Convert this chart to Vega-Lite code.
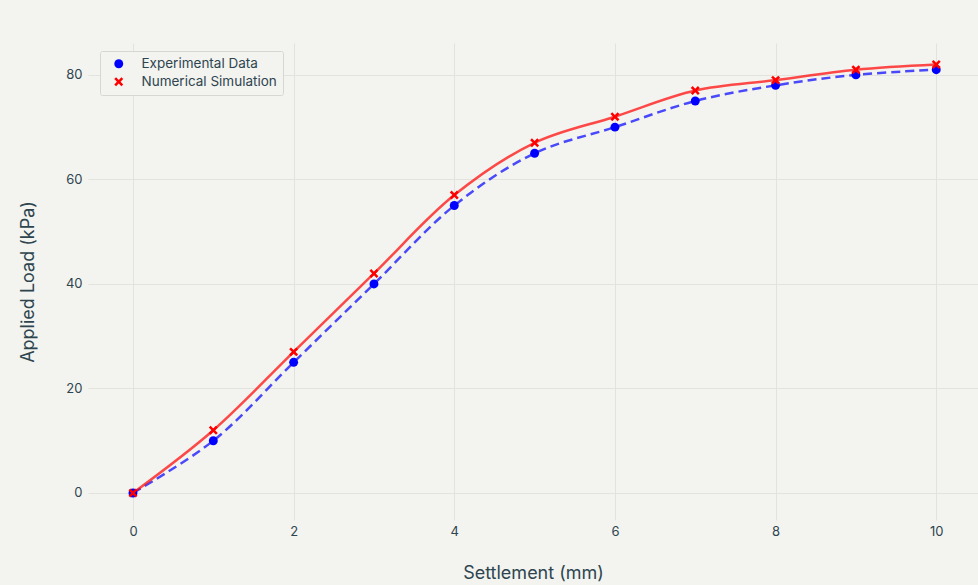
{
  "$schema": "https://vega.github.io/schema/vega-lite/v6.json",
  "width": 890,
  "height": 477,
  "autosize": {"type": "none"},
  "padding": {"left": 88, "top": 43, "right": 0, "bottom": 65},
  "background": "#f3f3ef",
  "config": {
    "view": {"stroke": null, "fill": "#f3f3ef"},
    "font": "Inter",
    "axis": {
      "domain": false,
      "ticks": false,
      "gridColor": "#e3e3de",
      "gridWidth": 1,
      "labelColor": "#2e4550",
      "labelFontSize": 13,
      "labelFont": "Inter",
      "titleColor": "#2e4550",
      "titleFontSize": 18,
      "titleFontWeight": "normal",
      "titleFont": "Inter"
    }
  },
  "data": {
    "values": [
      {"settlement": 0, "load": 0, "series": "Experimental Data"},
      {"settlement": 1, "load": 10, "series": "Experimental Data"},
      {"settlement": 2, "load": 25, "series": "Experimental Data"},
      {"settlement": 3, "load": 40, "series": "Experimental Data"},
      {"settlement": 4, "load": 55, "series": "Experimental Data"},
      {"settlement": 5, "load": 65, "series": "Experimental Data"},
      {"settlement": 6, "load": 70, "series": "Experimental Data"},
      {"settlement": 7, "load": 75, "series": "Experimental Data"},
      {"settlement": 8, "load": 78, "series": "Experimental Data"},
      {"settlement": 9, "load": 80, "series": "Experimental Data"},
      {"settlement": 10, "load": 81, "series": "Experimental Data"},
      {"settlement": 0, "load": 0, "series": "Numerical Simulation"},
      {"settlement": 1, "load": 12, "series": "Numerical Simulation"},
      {"settlement": 2, "load": 27, "series": "Numerical Simulation"},
      {"settlement": 3, "load": 42, "series": "Numerical Simulation"},
      {"settlement": 4, "load": 57, "series": "Numerical Simulation"},
      {"settlement": 5, "load": 67, "series": "Numerical Simulation"},
      {"settlement": 6, "load": 72, "series": "Numerical Simulation"},
      {"settlement": 7, "load": 77, "series": "Numerical Simulation"},
      {"settlement": 8, "load": 79, "series": "Numerical Simulation"},
      {"settlement": 9, "load": 81, "series": "Numerical Simulation"},
      {"settlement": 10, "load": 82, "series": "Numerical Simulation"}
    ]
  },
  "encoding": {
    "x": {
      "field": "settlement",
      "type": "quantitative",
      "title": "Settlement (mm)",
      "scale": {"domain": [-0.56, 10.52], "nice": false, "zero": false},
      "axis": {"values": [0, 2, 4, 6, 8, 10], "labelPadding": 5, "titlePadding": 26}
    },
    "y": {
      "field": "load",
      "type": "quantitative",
      "title": "Applied Load (kPa)",
      "scale": {"domain": [-5.17, 86.1], "nice": false, "zero": false},
      "axis": {"values": [0, 20, 40, 60, 80], "labelPadding": 6, "titlePadding": 28}
    }
  },
  "layer": [
    {
      "transform": [{"filter": "datum.series === 'Experimental Data'"}],
      "mark": {"type": "line", "color": "#0000ff", "opacity": 0.7, "strokeWidth": 2.5, "strokeDash": [9, 5], "interpolate": "catmull-rom"},
      "encoding": {}
    },
    {
      "transform": [{"filter": "datum.series === 'Numerical Simulation'"}],
      "mark": {"type": "line", "color": "#ff0000", "opacity": 0.7, "strokeWidth": 2.5, "interpolate": "catmull-rom"},
      "encoding": {}
    },
    {
      "mark": {"type": "point", "filled": true, "opacity": 1, "size": 80, "strokeWidth": 0},
      "encoding": {
        "color": {
          "field": "series",
          "type": "nominal",
          "scale": {"domain": ["Experimental Data", "Numerical Simulation"], "range": ["#0000ff", "#ff0000"]},
          "legend": {
            "title": null,
            "orient": "none",
            "legendX": 12,
            "legendY": 8,
            "fillColor": "#f3f3ef",
            "strokeColor": "#d6d6d2",
            "padding": 6,
            "cornerRadius": 2,
            "labelFontSize": 13.5,
            "labelColor": "#2e4550",
            "labelFont": "Inter",
            "symbolSize": 80,
            "symbolStrokeWidth": 0,
            "rowPadding": 3,
            "labelOffset": 16,
            "symbolOffset": 6
          }
        },
        "shape": {
          "field": "series",
          "type": "nominal",
          "scale": {"domain": ["Experimental Data", "Numerical Simulation"], "range": ["circle", "M-1,-0.6L-0.6,-1L0,-0.4L0.6,-1L1,-0.6L0.4,0L1,0.6L0.6,1L0,0.4L-0.6,1L-1,0.6L-0.4,0Z"]}
        }
      }
    }
  ]
}
